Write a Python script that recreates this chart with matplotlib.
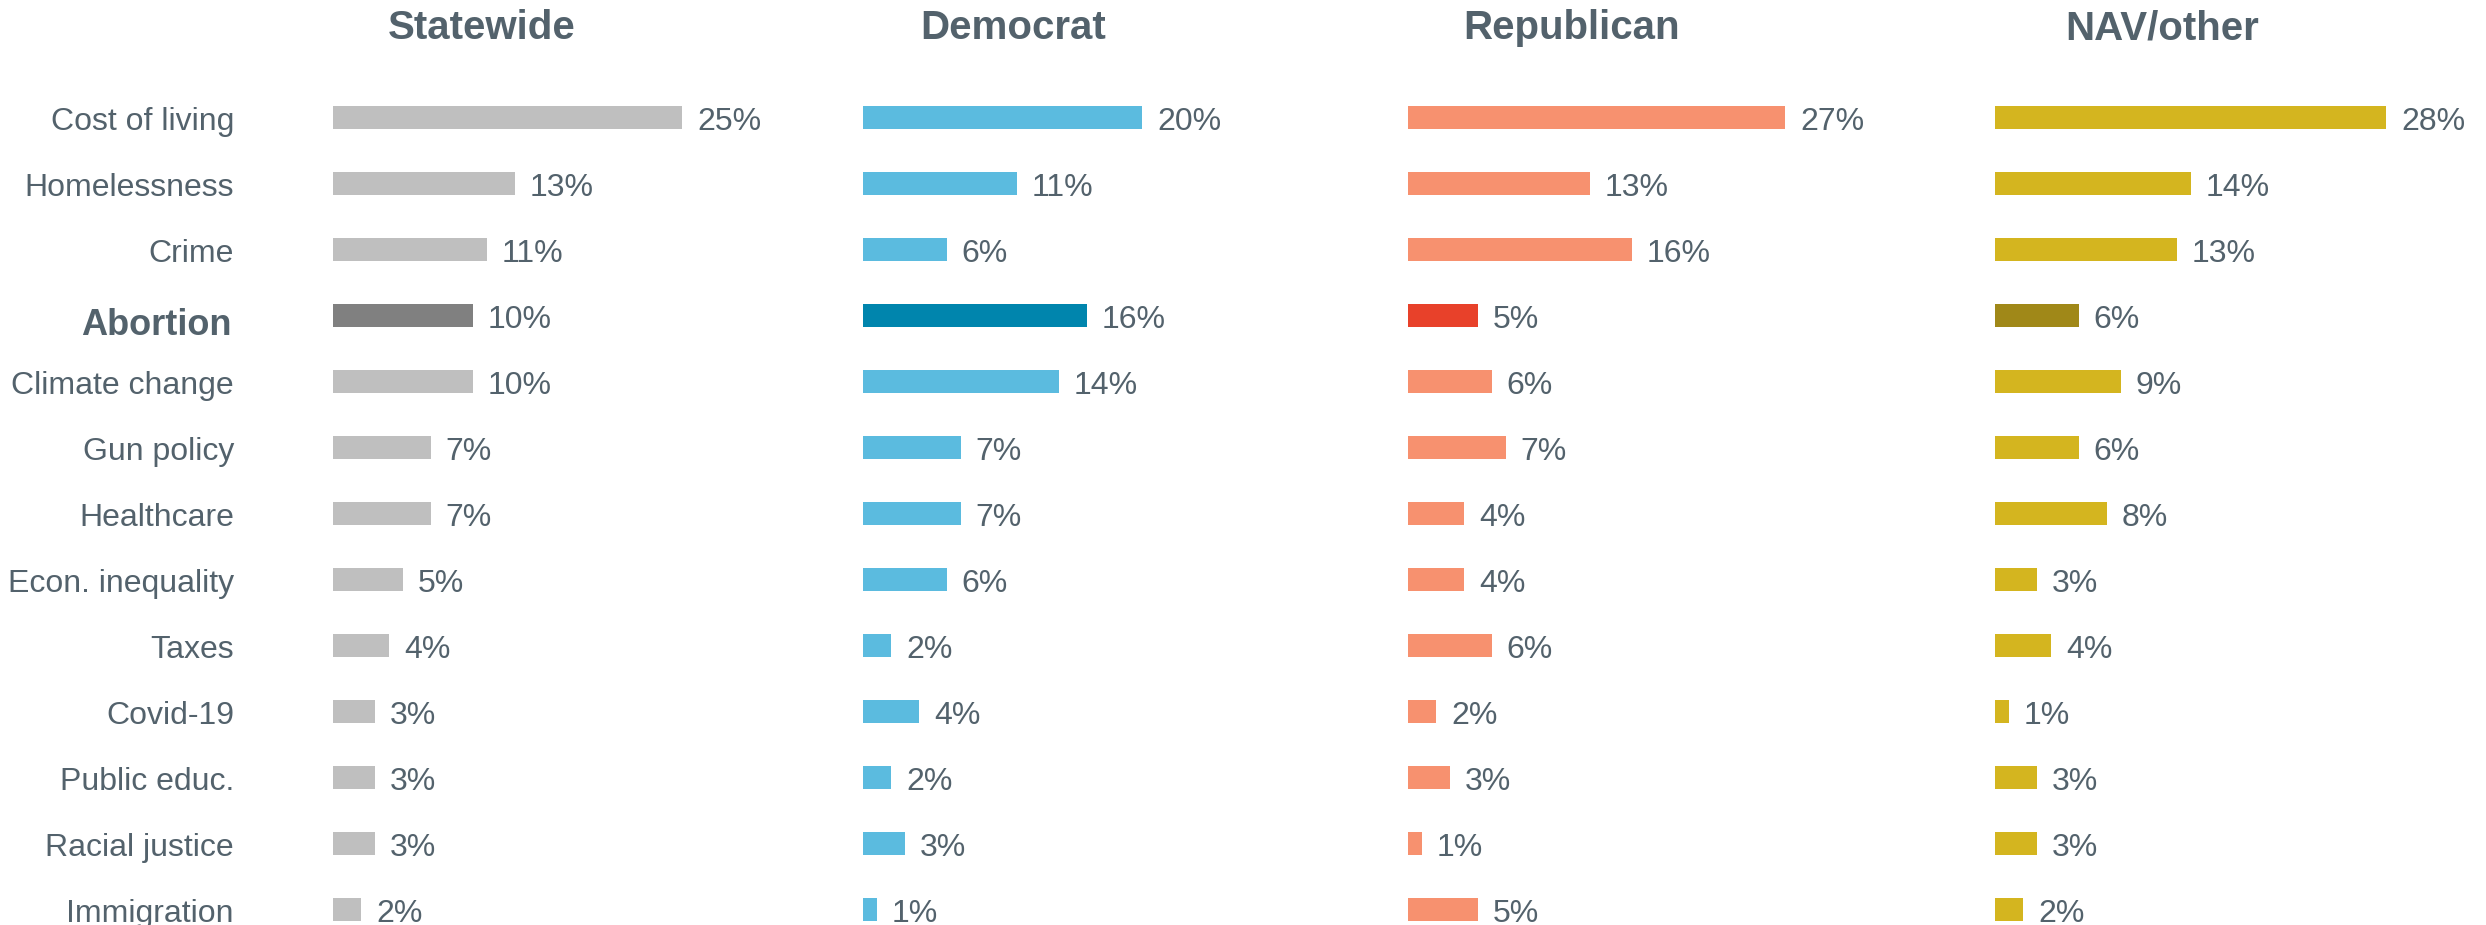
import matplotlib.pyplot as plt
from matplotlib.transforms import blended_transform_factory

plt.rcParams['font.family'] = ['Liberation Sans', 'DejaVu Sans']

issues = ['Cost of living', 'Homelessness', 'Crime', 'Abortion', 'Climate change',
          'Gun policy', 'Healthcare', 'Econ. inequality', 'Taxes', 'Covid-19',
          'Public educ.', 'Racial justice', 'Immigration']

statewide = [25, 13, 11, 10, 10, 7, 7, 5, 4, 3, 3, 3, 2]
democrat = [20, 11, 6, 16, 14, 7, 7, 6, 2, 4, 2, 3, 1]
republican = [27, 13, 16, 5, 6, 7, 4, 4, 6, 2, 3, 1, 5]
nav_other = [28, 14, 13, 6, 9, 6, 8, 3, 4, 1, 3, 3, 2]

groups = ['Statewide', 'Democrat', 'Republican', 'NAV/other']
highlight = 'Abortion'

TEXT = '#53626C'
W, H = 2486, 925

panels = [
    # (values, bar start px, title centre px, colour, highlight colour)
    (statewide, 333, 482, '#BFBFBF', '#808080'),
    (democrat, 863, 1013, '#5BBBDF', '#0085AD'),
    (republican, 1408, 1572, '#F7916F', '#E8412A'),
    (nav_other, 1995, 2162, '#D4B51F', '#A08818'),
]

px_per_pct = 13.97
row_px = 66.0
first_row = 117.5
bar_h = 23 / row_px

fig = plt.figure(figsize=(W / 100, H / 100), dpi=100)

top_px = first_row - 0.5 * row_px
ylim_bottom = (H - first_row) / row_px
ax_width = 30 * px_per_pct

axes = []
for (vals, x0, tc, col, hcol), name in zip(panels, groups):
    ax = fig.add_axes([x0 / W, 0, ax_width / W, (H - top_px) / H])
    ax.set_xlim(0, 30)
    ax.set_ylim(ylim_bottom, -0.5)
    ax.axis('off')
    ypos = list(range(len(issues)))
    colors = [hcol if c == highlight else col for c in issues]
    ax.barh(ypos, vals, height=bar_h, color=colors)
    gap = 15 / px_per_pct
    for y, v in zip(ypos, vals):
        ax.text(v + gap, y + bar_h / 2 + 0.01, f'{v}%', fontsize=23, color=TEXT,
                va='baseline', ha='left', clip_on=False)
    fig.text(tc / W, 1 - 39 / H, name, fontsize=29, fontweight='bold',
             color=TEXT, ha='center', va='baseline')
    axes.append(ax)

# category labels on the left
tr = blended_transform_factory(fig.transFigure, axes[0].transData)
for y, c in enumerate(issues):
    if c == highlight:
        axes[0].text(232 / W, y + bar_h / 2 + 0.12, c, transform=tr, fontsize=26,
                     color=TEXT, ha='right', va='baseline', fontweight='bold')
    else:
        axes[0].text(234 / W, y + bar_h / 2 + 0.01, c, transform=tr, fontsize=23,
                     color=TEXT, ha='right', va='baseline')

fig.savefig('out.png', dpi=100)
